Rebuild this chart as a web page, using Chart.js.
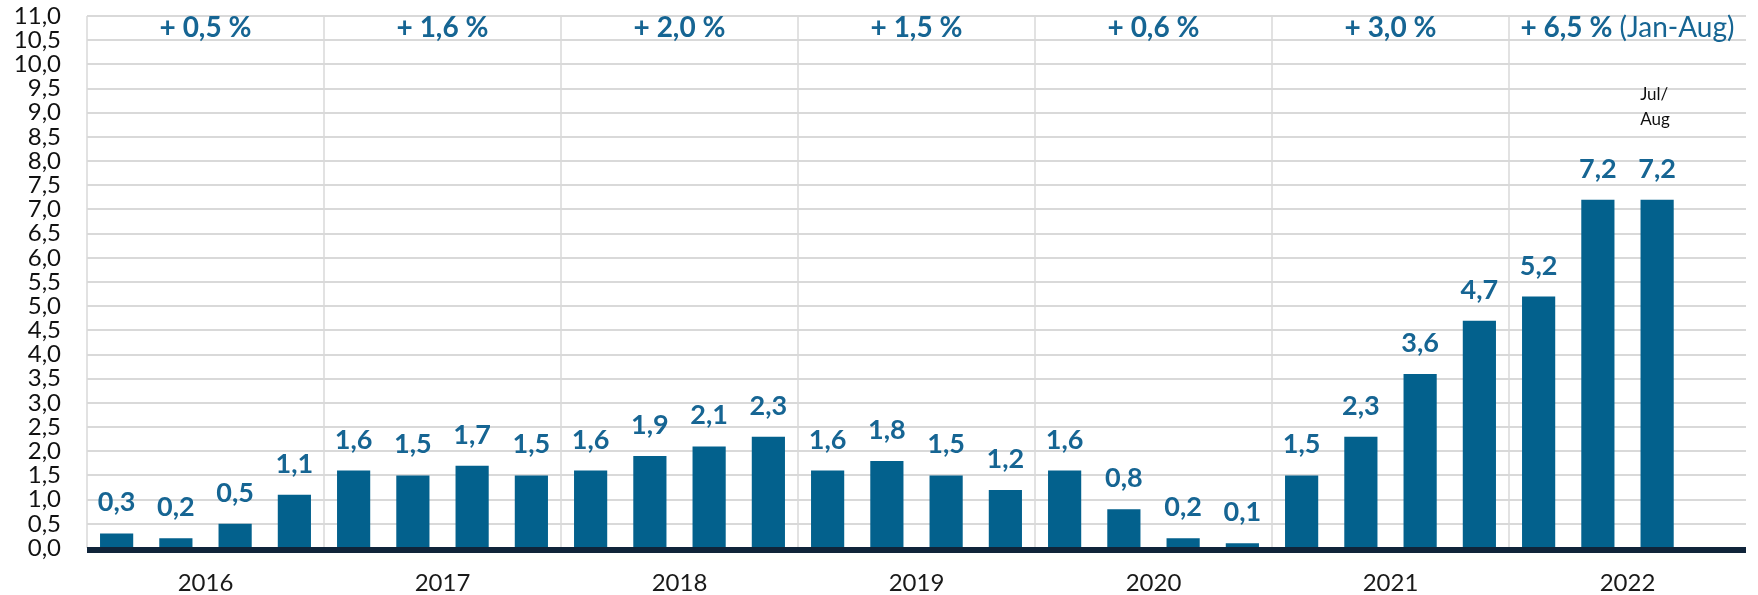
<!DOCTYPE html>
<html>
<head>
<meta charset="utf-8">
<script src="https://cdn.jsdelivr.net/npm/chart.js@4.4.0/dist/chart.umd.min.js"></script>
<style>
  html, body { margin: 0; padding: 0; background: #fff; }
</style>
</head>
<body>
<canvas id="quarterChart" width="1758" height="595"></canvas>
<script>
// data
const years = ["2016", "2017", "2018", "2019", "2020", "2021", "2022"];
const quarterLabels = [
  "2016 Q1", "2016 Q2", "2016 Q3", "2016 Q4",
  "2017 Q1", "2017 Q2", "2017 Q3", "2017 Q4",
  "2018 Q1", "2018 Q2", "2018 Q3", "2018 Q4",
  "2019 Q1", "2019 Q2", "2019 Q3", "2019 Q4",
  "2020 Q1", "2020 Q2", "2020 Q3", "2020 Q4",
  "2021 Q1", "2021 Q2", "2021 Q3", "2021 Q4",
  "2022 Q1", "2022 Q2", "2022 Jul/Aug", ""
];
const quarterValues = [
  0.3, 0.2, 0.5, 1.1,
  1.6, 1.5, 1.7, 1.5,
  1.6, 1.9, 2.1, 2.3,
  1.6, 1.8, 1.5, 1.2,
  1.6, 0.8, 0.2, 0.1,
  1.5, 2.3, 3.6, 4.7,
  5.2, 7.2, 7.2, null
];
const yearChanges = ["+ 0,5 %", "+ 1,6 %", "+ 2,0 %", "+ 1,5 %", "+ 0,6 %", "+ 3,0 %", "+ 6,5 %"];
const yearNotes = ["", "", "", "", "", "", "(Jan-Aug)"];
const partialNote = ["Jul/", "Aug"];
const partialIndex = 26;

const BAR_COLOR = "#03618d";
const TEXT_BLUE = "#166593";
const FONT = "Lato, 'Open Sans', sans-serif";

const fmt = v => v.toFixed(1).replace(".", ",");

// value labels, zero line and the yearly notes on top
const annotations = {
  id: "annotations",
  afterDatasetsDraw(chart) {
    const { ctx, chartArea, scales } = chart;
    const meta = chart.getDatasetMeta(0);
    ctx.save();

    const y0 = scales.y.getPixelForValue(0);
    ctx.fillStyle = "#10243a";
    ctx.fillRect(chartArea.left, y0 - 1, chartArea.right - chartArea.left, 6);

    ctx.fillStyle = TEXT_BLUE;
    ctx.font = "bold 27px " + FONT;
    ctx.textAlign = "center";
    ctx.textBaseline = "alphabetic";
    meta.data.forEach((bar, i) => {
      if (quarterValues[i] == null) return;
      ctx.fillText(fmt(quarterValues[i]), bar.x, bar.y - 22);
    });

    // yearly change above each year block
    const topY = chartArea.top + 21;
    years.forEach((y, i) => {
      const cx = scales.x2.getPixelForValue(i);
      const bold = yearChanges[i];
      const note = yearNotes[i] ? " " + yearNotes[i] : "";
      ctx.font = "bold 28px " + FONT;
      const wb = ctx.measureText(bold).width;
      ctx.font = "28px " + FONT;
      const wn = note ? ctx.measureText(note).width : 0;
      const start = cx - (wb + wn) / 2;
      ctx.textAlign = "left";
      ctx.font = "bold 28px " + FONT;
      ctx.fillText(bold, start, topY);
      if (note) {
        ctx.font = "28px " + FONT;
        ctx.fillText(note, start + wb, topY);
      }
    });

    // Jul/Aug marker over the last bar
    const last = meta.data[partialIndex];
    ctx.fillStyle = "#111";
    ctx.font = "17px " + FONT;
    ctx.textAlign = "left";
    ctx.fillText(partialNote[0], last.x - 17, last.y - 100);
    ctx.fillText(partialNote[1], last.x - 17, last.y - 75);

    ctx.restore();
  }
};

new Chart(document.getElementById("quarterChart"), {
  type: "bar",
  data: {
    labels: quarterLabels,
    datasets: [{
      data: quarterValues,
      backgroundColor: BAR_COLOR,
      categoryPercentage: 1,
      barPercentage: 0.56
    }]
  },
  options: {
    responsive: false,
    animation: false,
    layout: { padding: { top: 16, right: 12, bottom: 0, left: 0 } },
    plugins: {
      legend: { display: false },
      tooltip: { enabled: false }
    },
    scales: {
      x: {
        weight: 0,
        offset: true,
        border: { display: false },
        ticks: { display: false },
        afterFit(scale) { scale.height = 0; },
        grid: {
          offset: true,
          drawTicks: false,
          lineWidth: 2,
          color: c => (c.index % 4 === 0 ? "#e2e2e2" : "rgba(0,0,0,0)")
        }
      },
      x2: {
        type: "category",
        labels: years,
        position: "bottom",
        weight: 1,
        offset: true,
        border: { display: false },
        grid: { display: false, drawTicks: false },
        afterFit(scale) { scale.height = 47; },
        ticks: { color: "#1a1a1a", font: { family: FONT, size: 24 }, padding: 21 }
      },
      y: {
        min: 0,
        max: 11,
        border: { display: false },
        afterFit(scale) {
          scale.width = 87;
          scale.paddingTop = 0;
          scale.paddingBottom = 0;
        },
        ticks: {
          stepSize: 0.5,
          autoSkip: false,
          padding: 26,
          color: "#111",
          font: { family: FONT, size: 24 },
          callback: v => fmt(v)
        },
        grid: { drawTicks: false, lineWidth: 2, color: "#d9d9d9" }
      }
    }
  },
  plugins: [annotations]
});
</script>
</body>
</html>
